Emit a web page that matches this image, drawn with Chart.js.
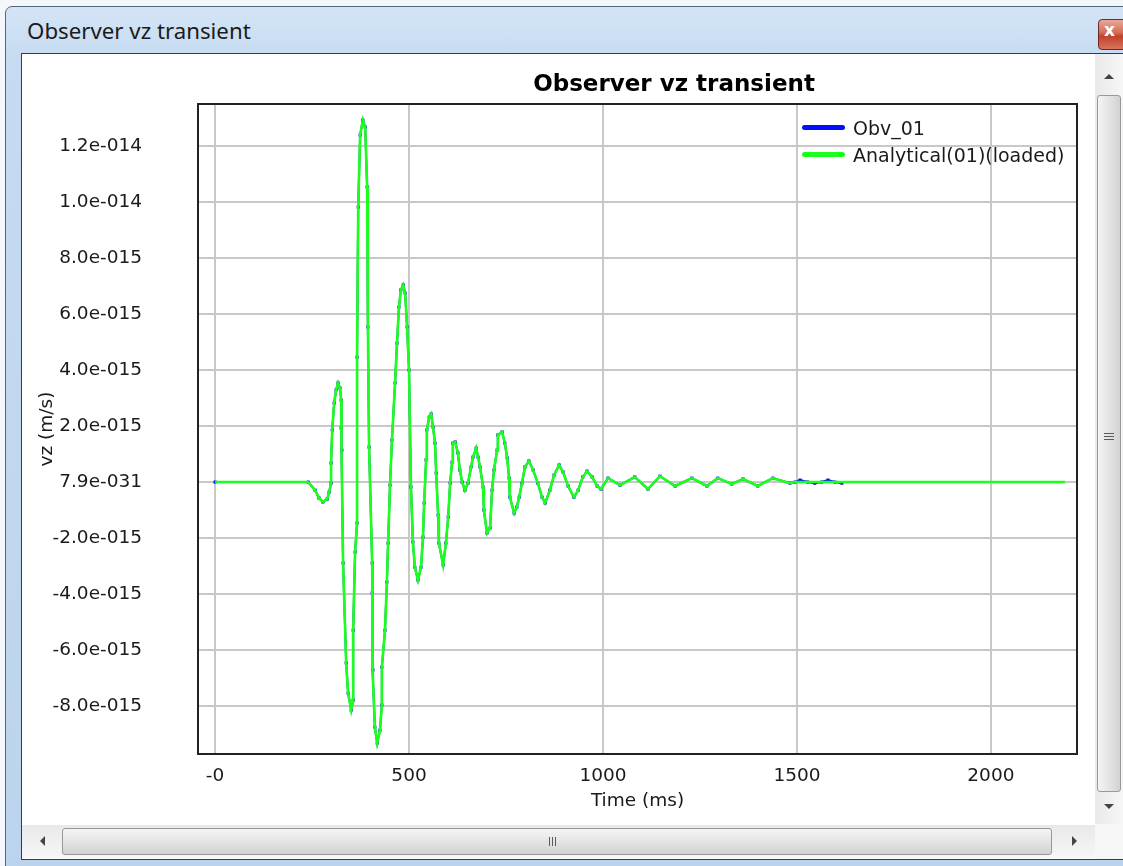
<!DOCTYPE html>
<html>
<head>
<meta charset="utf-8">
<title>Observer vz transient</title>
<script src="https://cdn.jsdelivr.net/npm/chart.js@4.4.1/dist/chart.umd.min.js"></script>
<style>
  html, body { margin: 0; padding: 0; width: 1123px; height: 866px; overflow: hidden; background: #f4f7fb; }
  .abs { position: absolute; box-sizing: border-box; }
  #frame { left: 5px; top: 6px; width: 1140px; height: 880px; border: 1px solid #55657a; border-radius: 7px 7px 0 0;
           background: linear-gradient(180deg, #d4e4f6 0%, #c6dbf1 6%, #bcd3ed 100%); }
  #caption { left: 27px; top: 17px; font: 21px "Noto Sans", "Open Sans", sans-serif; color: #1b1b1b; white-space: nowrap;
             transform: scaleX(1.06); transform-origin: left center; }
  #closeBtn { left: 1098px; top: 19px; width: 44px; height: 31px; border: 1px solid #6d2c22; border-radius: 4px;
              background: linear-gradient(180deg, #e9a99a 0%, #d46a55 45%, #c0412a 55%, #d9735c 100%); }
  #closeX { left: 1104px; top: 20px; font: bold 17px "DejaVu Sans", sans-serif; color: #fff; }
  #client { left: 21px; top: 53px; width: 1110px; height: 807px; background: #fff; border: 1px solid #3a3a3a; }
  #plotWrap { left: 22px; top: 55px; width: 1073px; height: 770px; }
  #chartTitle { left: 474px; top: 70px; width: 400px; text-align: center; font: bold 23px "DejaVu Sans", sans-serif; color: #000; }
  #legend { left: 802px; top: 114px; font: 19px "DejaVu Sans", sans-serif; color: #1a1a1a; }
  .legRow { display: flex; align-items: center; height: 27px; }
  .legSwatch { width: 43px; height: 5px; border-radius: 3px; margin-right: 8px; }
  #vbar { left: 1095px; top: 54px; width: 28px; height: 770px; background: linear-gradient(90deg, #e9e9e9, #f6f6f6); }
  #vthumb { left: 1097px; top: 95px; width: 24px; height: 697px; border: 1px solid #989898; border-radius: 3px;
            background: linear-gradient(90deg, #f4f4f4 0%, #e6e6e6 45%, #d2d2d2 100%); }
  #hbar { left: 22px; top: 825px; width: 1073px; height: 33px; background: linear-gradient(180deg, #e9e9e9, #f6f6f6); }
  #hthumb { left: 62px; top: 828px; width: 990px; height: 27px; border: 1px solid #989898; border-radius: 3px;
            background: linear-gradient(180deg, #f4f4f4 0%, #e6e6e6 45%, #d2d2d2 100%); }
  #corner { left: 1095px; top: 824px; width: 28px; height: 35px; background: #f7f7f7; }
  .grip { background: #5a5a5a; }
  .tri { width: 0; height: 0; }
</style>
</head>
<body>
<div class="abs" id="frame"></div>
<div class="abs" id="caption">Observer vz transient</div>
<div class="abs" id="closeBtn"></div>
<div class="abs" id="closeX">x</div>
<div class="abs" id="client"></div>

<div class="abs" id="plotWrap"><canvas id="plot" width="1073" height="770"></canvas></div>
<div class="abs" id="chartTitle">Observer vz transient</div>
<div class="abs" id="legend"></div>

<!-- vertical scroll bar -->
<div class="abs" id="vbar"></div>
<div class="abs tri" style="left:1104px;top:74px;border-left:5px solid transparent;border-right:5px solid transparent;border-bottom:5px solid #444;"></div>
<div class="abs" id="vthumb"></div>
<div class="abs grip" style="left:1104px;top:433px;width:10px;height:1px;"></div>
<div class="abs grip" style="left:1104px;top:436px;width:10px;height:1px;"></div>
<div class="abs grip" style="left:1104px;top:439px;width:10px;height:1px;"></div>
<div class="abs tri" style="left:1104px;top:804px;border-left:5px solid transparent;border-right:5px solid transparent;border-top:5px solid #444;"></div>

<!-- horizontal scroll bar -->
<div class="abs" id="hbar"></div>
<div class="abs tri" style="left:40px;top:836px;border-top:5px solid transparent;border-bottom:5px solid transparent;border-right:5px solid #444;"></div>
<div class="abs" id="hthumb"></div>
<div class="abs grip" style="left:549px;top:837px;width:1px;height:9px;"></div>
<div class="abs grip" style="left:552px;top:837px;width:1px;height:9px;"></div>
<div class="abs grip" style="left:555px;top:837px;width:1px;height:9px;"></div>
<div class="abs tri" style="left:1072px;top:836px;border-top:5px solid transparent;border-bottom:5px solid transparent;border-left:5px solid #444;"></div>
<div class="abs" id="corner"></div>

<script>
// Sample times (ms) shared by both traces
const timeMs = [
  0, 240, 258, 268, 278, 289, 294, 299, 299, 302, 307, 312, 317, 322, 325, 325, 327, 330,
  338, 343, 351, 356, 356, 361, 366, 366, 369, 374, 381, 387, 392, 394, 397, 405, 405, 407,
  412, 418, 425, 430, 430, 438, 443, 446, 451, 456, 464, 469, 474, 479, 485, 490, 495, 500,
  505, 510, 515, 523, 531, 536, 539, 544, 546, 552, 557, 562, 567, 570, 575, 577, 588, 595,
  601, 606, 611, 613, 619, 626, 631, 637, 644, 652, 660, 665, 673, 678, 683, 691, 693, 701,
  709, 714, 719, 727, 729, 740, 747, 753, 758, 760, 771, 778, 784, 791, 799, 809, 820, 832,
  843, 851, 863, 874, 887, 897, 910, 925, 936, 948, 959, 972, 985, 995, 1013, 1044, 1082, 1116,
  1147, 1186, 1229, 1268, 1296, 1332, 1361, 1399, 1438, 1482, 1495, 1508, 1528, 1546, 1564, 1580,
  1598, 1616, 2191
];

// Analytical(01)(loaded): vz in m/s
const analyticalVz = [
  0, 0, -0.29e-15, -0.57e-15, -0.71e-15, -0.61e-15, -0.36e-15, -0.04e-15, 0.68e-15, 1.86e-15,
  2.82e-15, 3.29e-15, 3.54e-15, 3.36e-15, 2.93e-15, 1.93e-15, 1.14e-15, -2.89e-15,
  -6.46e-15, -7.54e-15, -8.14e-15, -7.79e-15, -5.29e-15, -2.50e-15, -1.46e-15, 4.46e-15,
  9.82e-15, 12.39e-15, 12.93e-15, 12.68e-15, 10.54e-15, 5.54e-15, 1.25e-15, -2.89e-15,
  -3.96e-15, -6.71e-15, -8.75e-15, -9.32e-15, -8.86e-15, -7.96e-15, -6.61e-15, -5.29e-15,
  -3.57e-15, -2.18e-15, -0.11e-15, 1.50e-15, 3.54e-15, 4.96e-15, 6.25e-15, 6.86e-15,
  7.04e-15, 6.75e-15, 5.54e-15, 4.00e-15, -0.18e-15, -2.14e-15, -3.04e-15, -3.50e-15,
  -3.04e-15, -1.96e-15, -0.75e-15, 0.79e-15, 1.86e-15, 2.32e-15, 2.43e-15, 1.96e-15,
  1.39e-15, 0.32e-15, -1.18e-15, -2.18e-15, -2.96e-15, -2.18e-15, -1.25e-15, -0.04e-15,
  0.71e-15, 1.39e-15, 1.43e-15, 1.04e-15, 0.43e-15, 0, -0.29e-15, -0.04e-15, 0.54e-15,
  0.89e-15, 1.21e-15, 0.89e-15, 0.54e-15, -0.18e-15, -1.00e-15, -1.82e-15, -1.64e-15,
  -0.29e-15, 0.43e-15, 1.14e-15, 1.68e-15, 1.79e-15, 1.39e-15, 0.86e-15, 0.14e-15,
  -0.54e-15, -1.11e-15, -0.89e-15, -0.54e-15, -0.04e-15, 0.54e-15, 0.75e-15, 0.43e-15,
  -0.04e-15, -0.54e-15, -0.75e-15, -0.29e-15, 0.25e-15, 0.61e-15, 0.36e-15, -0.14e-15,
  -0.54e-15, -0.29e-15, 0.18e-15, 0.39e-15, 0.18e-15, -0.14e-15, -0.25e-15, 0.14e-15,
  -0.11e-15, 0.18e-15, -0.25e-15, 0.21e-15, -0.14e-15, 0.14e-15, -0.14e-15, 0.14e-15,
  -0.07e-15, 0.11e-15, -0.14e-15, 0.14e-15, -0.04e-15, 0, 0, 0, 0, 0, 0, 0, 0, 0
];

// Obv_01: vz in m/s (recording stops at 1616 ms)
const observedVz = [
  0, 0, -0.29e-15, -0.57e-15, -0.71e-15, -0.61e-15, -0.36e-15, -0.04e-15, 0.68e-15, 1.86e-15,
  2.82e-15, 3.29e-15, 3.54e-15, 3.36e-15, 2.93e-15, 1.93e-15, 1.14e-15, -2.89e-15,
  -6.46e-15, -7.54e-15, -8.14e-15, -7.79e-15, -5.29e-15, -2.50e-15, -1.46e-15, 4.46e-15,
  9.82e-15, 12.39e-15, 12.93e-15, 12.68e-15, 10.54e-15, 5.54e-15, 1.25e-15, -2.89e-15,
  -3.96e-15, -6.71e-15, -8.75e-15, -9.32e-15, -8.86e-15, -7.96e-15, -6.61e-15, -5.29e-15,
  -3.57e-15, -2.18e-15, -0.11e-15, 1.50e-15, 3.54e-15, 4.96e-15, 6.25e-15, 6.86e-15,
  7.04e-15, 6.75e-15, 5.54e-15, 4.00e-15, -0.18e-15, -2.14e-15, -3.04e-15, -3.50e-15,
  -3.04e-15, -1.96e-15, -0.75e-15, 0.79e-15, 1.86e-15, 2.32e-15, 2.43e-15, 1.96e-15,
  1.39e-15, 0.32e-15, -1.18e-15, -2.18e-15, -2.96e-15, -2.18e-15, -1.25e-15, -0.04e-15,
  0.71e-15, 1.39e-15, 1.43e-15, 1.04e-15, 0.43e-15, 0, -0.29e-15, -0.04e-15, 0.54e-15,
  0.89e-15, 1.21e-15, 0.89e-15, 0.54e-15, -0.18e-15, -1.00e-15, -1.82e-15, -1.64e-15,
  -0.29e-15, 0.43e-15, 1.14e-15, 1.68e-15, 1.79e-15, 1.39e-15, 0.86e-15, 0.14e-15,
  -0.54e-15, -1.11e-15, -0.89e-15, -0.54e-15, -0.04e-15, 0.54e-15, 0.75e-15, 0.43e-15,
  -0.04e-15, -0.54e-15, -0.75e-15, -0.29e-15, 0.25e-15, 0.61e-15, 0.36e-15, -0.14e-15,
  -0.54e-15, -0.29e-15, 0.18e-15, 0.39e-15, 0.18e-15, -0.14e-15, -0.25e-15, 0.14e-15,
  -0.11e-15, 0.18e-15, -0.25e-15, 0.21e-15, -0.14e-15, 0.14e-15, -0.14e-15, 0.14e-15,
  -0.07e-15, 0.11e-15, -0.14e-15, 0.14e-15, -0.04e-15, 0, 0.07e-15, 0, -0.04e-15, 0,
  0.07e-15, 0, -0.04e-15, null
];

const seriesNames = ['Obv_01', 'Analytical(01)(loaded)'];
const seriesColors = ['#0010ff', '#1cff1c'];

const xTickValues = [0, 500, 1000, 1500, 2000];
const xTickLabels = ['-0', '500', '1000', '1500', '2000'];
const yTickValues = [-8e-15, -6e-15, -4e-15, -2e-15, 0, 2e-15, 4e-15, 6e-15, 8e-15, 1e-14, 1.2e-14];
const yTickLabels = ['-8.0e-015', '-6.0e-015', '-4.0e-015', '-2.0e-015', '7.9e-031', '2.0e-015',
                     '4.0e-015', '6.0e-015', '8.0e-015', '1.0e-014', '1.2e-014'];

function toPoints(values) {
  const pts = [];
  timeMs.forEach((t, i) => { if (values[i] !== null) pts.push({ x: t, y: values[i] }); });
  return pts;
}

const tickFont = { family: '"DejaVu Sans", sans-serif', size: 18.5 };

// Black box around the plotting area
const plotFrame = {
  id: 'plotFrame',
  afterDraw(chart) {
    const { ctx, chartArea: a } = chart;
    ctx.save();
    ctx.strokeStyle = '#222';
    ctx.lineWidth = 2;
    ctx.strokeRect(a.left, a.top, a.right - a.left, a.bottom - a.top);
    ctx.restore();
  }
};

const chart = new Chart(document.getElementById('plot'), {
  type: 'line',
  data: {
    datasets: [
      { label: seriesNames[0], data: toPoints(observedVz), borderColor: seriesColors[0],
        backgroundColor: seriesColors[0], borderWidth: 2, pointRadius: 2.2, pointStyle: 'rect',
        pointBorderWidth: 0, tension: 0, order: 1 },
      { label: seriesNames[1], data: toPoints(analyticalVz), borderColor: seriesColors[1],
        backgroundColor: seriesColors[1], borderWidth: 2.6, pointRadius: 0, tension: 0, order: 0 }
    ]
  },
  options: {
    responsive: false,
    animation: false,
    events: [],
    layout: { padding: { top: 49, right: 18, bottom: 0, left: 0 } },
    plugins: { legend: { display: false }, tooltip: { enabled: false } },
    scales: {
      x: {
        type: 'linear', min: -44, max: 2222,
        afterBuildTicks: s => { s.ticks = xTickValues.map(v => ({ value: v })); },
        afterFit: s => { s.height = 71; },
        ticks: { callback: (v, i) => xTickLabels[i], padding: 11, color: '#1a1a1a', font: tickFont,
                 maxRotation: 0, autoSkip: false },
        grid: { color: '#c8c8c8', lineWidth: 2, drawTicks: false },
        border: { display: false },
        title: { display: true, text: 'Time (ms)', color: '#1a1a1a', font: tickFont,
                 padding: { top: 13, bottom: 13 } }
      },
      y: {
        type: 'linear', min: -9.71e-15, max: 13.5e-15,
        afterBuildTicks: s => { s.ticks = yTickValues.map(v => ({ value: v })); },
        afterFit: s => { s.width = 176; s.paddingTop = 12; s.paddingBottom = 12; },
        ticks: { callback: (v, i) => yTickLabels[i], padding: 56, color: '#1a1a1a', font: tickFont,
                 autoSkip: false },
        grid: { color: '#c8c8c8', lineWidth: 2, drawTicks: false },
        border: { display: false },
        title: { display: true, text: 'vz (m/s)', color: '#1a1a1a', font: tickFont,
                 padding: { top: 14, bottom: 14 } }
      }
    }
  },
  plugins: [plotFrame]
});

// Legend built from the datasets
const legend = document.getElementById('legend');
chart.data.datasets.forEach(ds => {
  const row = document.createElement('div');
  row.className = 'legRow';
  const sw = document.createElement('div');
  sw.className = 'legSwatch';
  sw.style.background = ds.borderColor;
  const txt = document.createElement('span');
  txt.textContent = ds.label;
  row.appendChild(sw);
  row.appendChild(txt);
  legend.appendChild(row);
});
</script>
</body>
</html>
